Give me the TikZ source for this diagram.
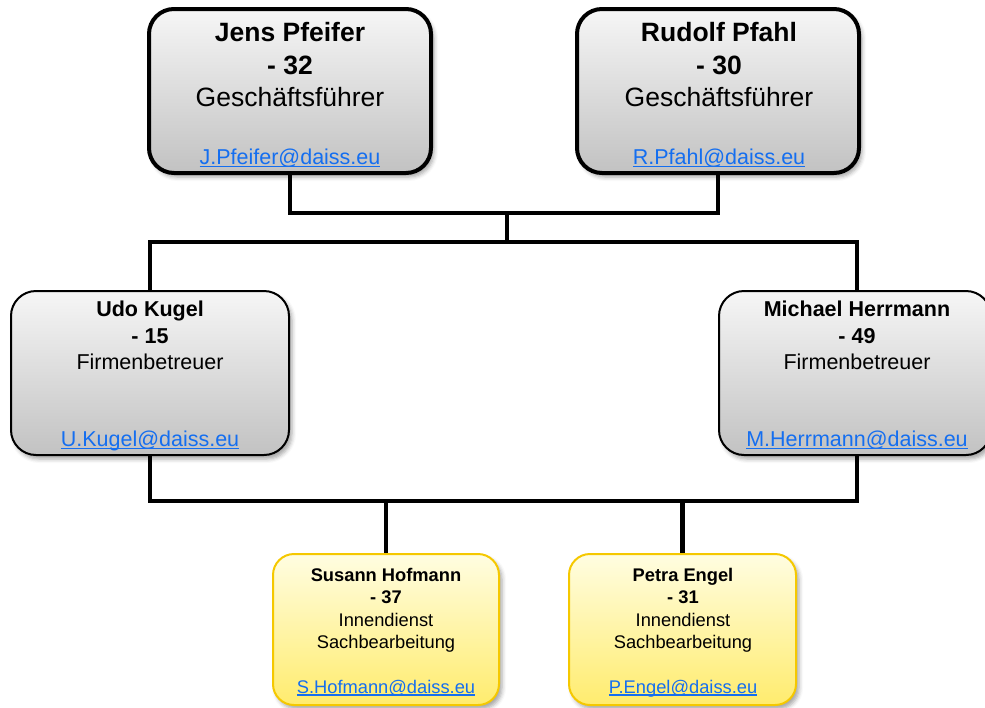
\documentclass[tikz,border=0pt]{standalone}
\usepackage{fontspec}
\setmainfont{Liberation Sans}
\usetikzlibrary{shadows.blur,backgrounds}
\definecolor{linkblue}{RGB}{20,110,240}
\definecolor{gtop}{RGB}{246,246,246}
\definecolor{gbot}{RGB}{194,194,194}
\definecolor{ytop}{RGB}{255,253,225}
\definecolor{ybot}{RGB}{255,236,110}
\definecolor{yborder}{RGB}{245,200,0}
\newcommand\maillink[1]{\setbox0\hbox{#1}\rlap{\color{linkblue}\rule[-0.14em]{\wd0}{0.065em}}\box0}
\begin{document}
\begin{tikzpicture}[x=1pt,y=-1pt,
  card/.style={rounded corners=#1, inner sep=0pt,
    blur shadow={shadow xshift=3pt, shadow yshift=-4pt, shadow blur radius=4pt, shadow opacity=35}},
  greycard/.style={card=25pt, draw=black, top color=gtop, bottom color=gbot},
  yellowcard/.style={card=21pt, draw=yborder, line width=2pt, top color=ytop, bottom color=ybot},
  conn/.style={draw=black, line width=4.5pt, line join=miter},
  txt/.style={anchor=base, inner sep=0pt},
  nameA/.style={txt, font=\bfseries\fontsize{26.5}{30}\selectfont},
  roleA/.style={txt, font=\fontsize{26.5}{30}\selectfont},
  mailA/.style={txt, text=linkblue, font=\fontsize{21.5}{25}\selectfont},
  nameB/.style={txt, font=\bfseries\fontsize{21.5}{25}\selectfont},
  roleB/.style={txt, font=\fontsize{21.5}{25}\selectfont},
  mailB/.style={txt, text=linkblue, font=\fontsize{21.5}{25}\selectfont},
  nameC/.style={txt, font=\bfseries\fontsize{18.3}{22}\selectfont},
  roleC/.style={txt, font=\fontsize{18.3}{22}\selectfont},
  mailC/.style={txt, text=linkblue, font=\fontsize{18.3}{22}\selectfont}
]
\useasboundingbox (0,0) rectangle (985,707);
\begin{scope}
\clip (0,0) rectangle (985,707);
% boxes
\node[greycard, line width=4pt, minimum width=282pt, minimum height=164pt] (jens) at (290,91) {};
\node[greycard, line width=4pt, minimum width=282pt, minimum height=164pt] (rudolf) at (718,91) {};
\node[greycard, line width=2pt, minimum width=278pt, minimum height=164pt] (udo) at (150,373) {};
\node[greycard, line width=2pt, minimum width=272pt, minimum height=164pt] (michael) at (855,373) {};
\node[yellowcard, minimum width=226pt, minimum height=151pt] (susann) at (386,629.5) {};
\node[yellowcard, minimum width=227pt, minimum height=151pt] (petra) at (682.5,629.5) {};

% connectors
\begin{scope}[on background layer]
\coordinate (tj) at (507,213);
\coordinate (mj) at (507,242);
\coordinate (ml) at (150,242);
\coordinate (mr) at (857,242);
\coordinate (bl) at (150,501);
\coordinate (br) at (857,501);
\draw[conn] (jens.south) -- (jens.south |- tj) -- (rudolf.south |- tj) -- (rudolf.south);
\draw[conn] (tj) -- (mj);
\draw[conn] (udo.north) -- (ml) -- (mr) -- (michael.north -| mr);
\draw[conn] (udo.south) -- (bl) -- (br) -- (michael.south -| br);
\draw[conn] (susann.north |- bl) -- (susann.north);
\draw[conn] (petra.north |- bl) -- (petra.north);
\end{scope}

% texts
\node[nameA] (jn) at (290,41) {Jens Pfeifer};
\node[nameA] (ja) at (290,74) {- 32};
\node[roleA] (jr) at (290,106) {Geschäftsführer};
\node[mailA] (jm) at (290,164) {\maillink{J.Pfeifer@daiss.eu}};

\node[nameA] (rn) at (719,41) {Rudolf Pfahl};
\node[nameA] (ra) at (719,74) {- 30};
\node[roleA] (rr) at (719,106) {Geschäftsführer};
\node[mailA] (rm) at (719,164) {\maillink{R.Pfahl@daiss.eu}};

\node[nameB] (un) at (150,316) {Udo Kugel};
\node[nameB] (ua) at (150,343) {- 15};
\node[roleB] (ur) at (150,369) {Firmenbetreuer};
\node[mailB] (um) at (150,446) {\maillink{U.Kugel@daiss.eu}};

\node[nameB] (mn) at (857,316) {Michael Herrmann};
\node[nameB] (ma) at (857,343) {- 49};
\node[roleB] (mr2) at (857,369) {Firmenbetreuer};
\node[mailB] (mm) at (857,446) {\maillink{M.Herrmann@daiss.eu}};

\node[nameC] (sn) at (386,581) {Susann Hofmann};
\node[nameC] (sa) at (386,603) {- 37};
\node[roleC] (sr) at (386,626) {Innendienst};
\node[roleC] (sr2) at (386,648) {Sachbearbeitung};
\node[mailC] (sm) at (386,693) {\maillink{S.Hofmann@daiss.eu}};

\node[nameC] (pn) at (683,581) {Petra Engel};
\node[nameC] (pa) at (683,603) {- 31};
\node[roleC] (pr) at (683,626) {Innendienst};
\node[roleC] (pr2) at (683,648) {Sachbearbeitung};
\node[mailC] (pm) at (683,693) {\maillink{P.Engel@daiss.eu}};
\end{scope}
\end{tikzpicture}
\end{document}
